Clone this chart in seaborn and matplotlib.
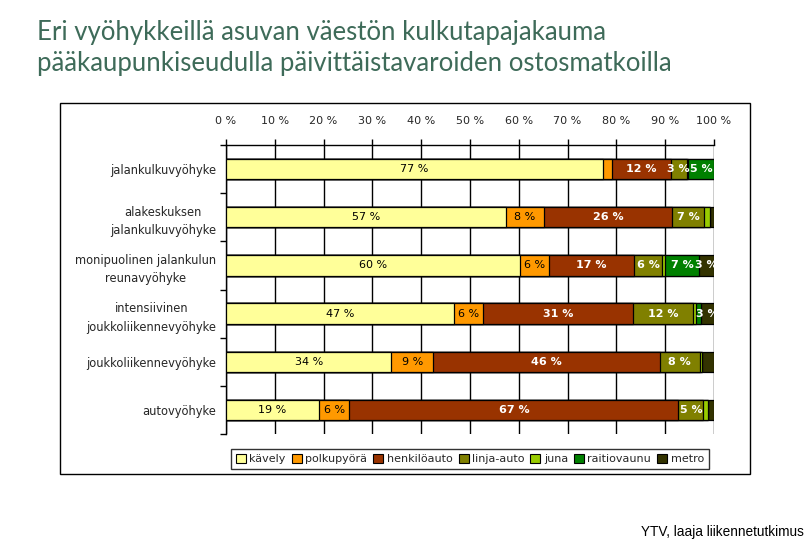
import numpy as np
import pandas as pd
import seaborn as sns
import matplotlib
matplotlib.use("Agg")
from matplotlib import pyplot as plt
from matplotlib.patches import Patch, Rectangle

zones = ['jalankulkuvyöhyke',
         'alakeskuksen\njalankulkuvyöhyke',
         'monipuolinen jalankulun\nreunavyöhyke',
         'intensiivinen\njoukkoliikennevyöhyke',
         'joukkoliikennevyöhyke',
         'autovyöhyke']

modes = ['kävely', 'polkupyörä', 'henkilöauto', 'linja-auto', 'juna', 'raitiovaunu', 'metro']

kavely = [77.3, 57.3, 60.3, 46.7, 33.9, 19.0]
polkupyora = [1.8, 7.8, 5.9, 5.9, 8.6, 6.3]
henkiloauto = [12.0, 26.3, 17.4, 30.8, 46.4, 67.4]
linja_auto = [3.3, 6.6, 5.8, 12.2, 8.2, 5.1]
juna = [0.3, 1.1, 0.6, 0.7, 0.4, 1.0]
raitiovaunu = [5.2, 0.0, 7.0, 1.1, 0.1, 0.0]
metro = [0.1, 0.9, 3.0, 2.6, 2.4, 1.2]

colors = ['#FFFF99', '#FF9900', '#993300', '#808000', '#99CC00', '#008000', '#333300']
label_colors = ['black', 'black', 'white', 'white', 'white', 'white', 'white']

sns.set_style('white')
plt.rcParams['font.family'] = ['DejaVu Sans']

values = pd.DataFrame(dict(zip(modes, [kavely, polkupyora, henkiloauto, linja_auto,
                                      juna, raitiovaunu, metro])), index=zones)
cum = values.cumsum(axis=1)

fig = plt.figure(figsize=(8.07, 5.41), dpi=100)
ax = fig.add_axes([226 / 807, 1 - 434 / 541, (714 - 226) / 807, (434 - 145) / 541])

# stacked bars: draw the cumulative totals from the last mode backwards
for i in range(len(modes) - 1, -1, -1):
    d = pd.DataFrame({'zone': zones, 'cum': cum[modes[i]].values})
    sns.barplot(data=d, x='cum', y='zone', orient='h', color=colors[i], saturation=1,
                edgecolor='black', linewidth=0.9, width=0.42, ax=ax, zorder=3)

# value labels
for i, m in enumerate(modes):
    for j, z in enumerate(zones):
        v = values.loc[z, m]
        if v >= 2.5:
            x = cum.loc[z, m] - v / 2
            ax.text(x, j, f'{round(v)} %', ha='center', va='center', fontsize=8,
                    color=label_colors[i], fontweight='bold' if label_colors[i] == 'white' else 'normal',
                    zorder=5)

ax.set_xlim(0, 100)
ax.set_ylim(5.5, -0.5)
ax.xaxis.tick_top()
ax.set_xticks(np.arange(0, 101, 10))
ax.set_xticklabels([f'{t} %' for t in range(0, 101, 10)], fontsize=8)
ax.tick_params(axis='x', length=4, width=1, color='black', pad=10, direction='out', top=True)
ax.grid(axis='x', color='black', linewidth=1, zorder=0)
ax.set_axisbelow(True)

ax.set_yticks(range(len(zones)))
ax.set_yticklabels(zones, fontsize=8.3, multialignment='center', linespacing=1.55)
ax.set_yticks(np.arange(-0.5, 6, 1), minor=True)
ax.tick_params(axis='y', which='major', length=0, pad=7)
ax.tick_params(axis='y', which='minor', length=4, width=1, color='black', direction='out', left=True)
ax.set_xlabel('')
ax.set_ylabel('')

for s in ['bottom', 'right']:
    ax.spines[s].set_visible(False)
for s in ['top', 'left']:
    ax.spines[s].set_color('black')
    ax.spines[s].set_linewidth(1)

handles = [Patch(facecolor=c, edgecolor='black', linewidth=0.8) for c in colors]
leg = fig.legend(handles, modes, ncol=7, loc='center', bbox_to_anchor=(470 / 807, 1 - 459 / 541),
                 fontsize=8, frameon=True, fancybox=False, edgecolor='black',
                 handlelength=0.9, handleheight=0.9, handletextpad=0.3, columnspacing=0.55,
                 borderpad=0.45)
leg.get_frame().set_linewidth(1)

fig.add_artist(Rectangle((60 / 807, 1 - 474 / 541), (750 - 60) / 807, (474 - 103) / 541,
                         transform=fig.transFigure, fill=False, edgecolor='black', linewidth=1))

fig.text(37 / 807, 1 - 20 / 541,
         'Eri vyöhykkeillä asuvan väestön kulkutapajakauma\npääkaupunkiseudulla päivittäistavaroiden ostosmatkoilla',
         ha='left', va='top', fontsize=18.5, color='#3E6B59', family='Lato', linespacing=1.3)

fig.text(641 / 807, 1 - 532 / 541, 'YTV, laaja liikennetutkimus', ha='left', va='center',
         fontsize=9.8, family='Liberation Sans', color='black')

fig.savefig('out.png', dpi=100)
